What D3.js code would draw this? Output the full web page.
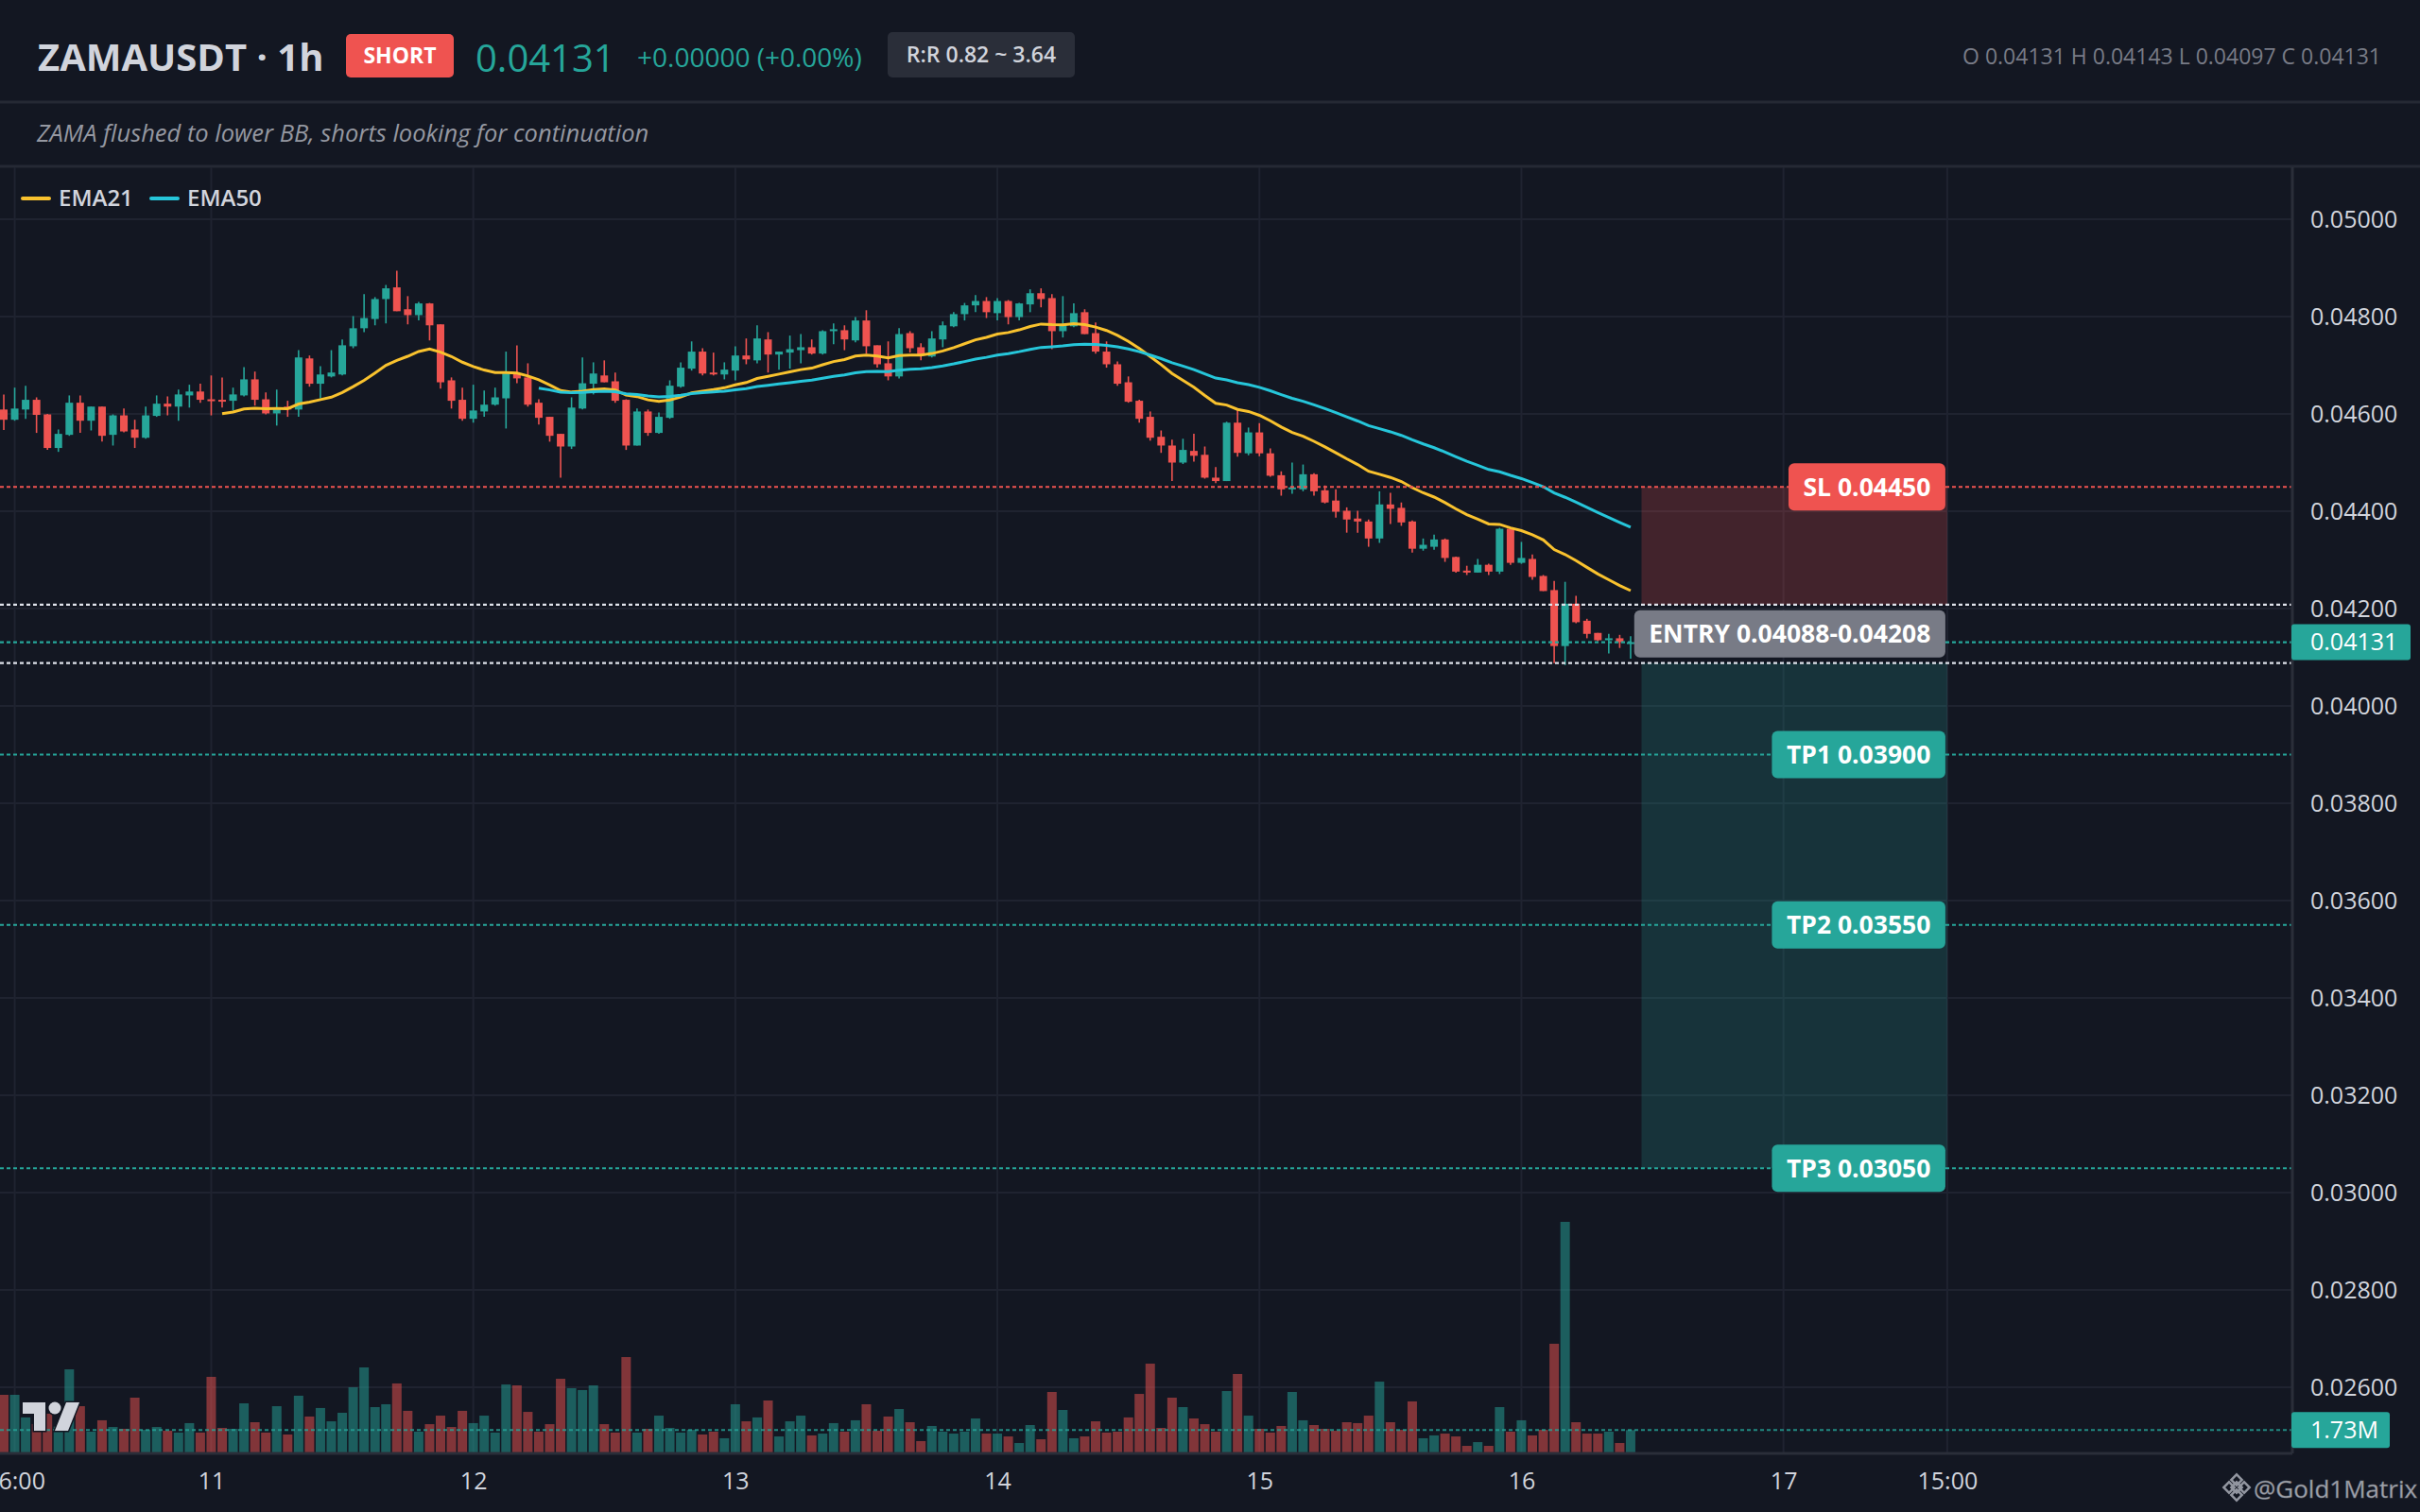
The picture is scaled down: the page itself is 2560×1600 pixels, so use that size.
<!DOCTYPE html>
<html lang="en">
<head>
<meta charset="utf-8">
<title>ZAMAUSDT 1h</title>
<script src="https://d3js.org/d3.v7.min.js"></script>
<style>
  body { margin: 0; background: #131722; }
  svg text { font-family: "Open Sans", "Noto Sans", sans-serif; }
  .axis path, .axis line { display: none; }
  .axis text { fill: #d1d4dc; font-size: 25px; font-family: "Open Sans", sans-serif; }
  .lvl { font-size: 26.5px; font-weight: 700; fill: #fff; }
</style>
</head>
<body>
<script>
// 1h candles, first bar = 10th 05:00, last = 16th 10:00
// prices in units of 0.00001
var opens = [
  4609,4588,4609,4629,4599,4530,4557,4623,4586,4615,
  4557,4597,4568,4551,4596,4621,4615,4638,4646,4630,
  4629,4627,4638,4671,4630,4601,4615,4609,4714,4662,
  4677,4681,4739,4776,4795,4836,4860,4815,4803,4827,
  4784,4669,4629,4590,4605,4619,4632,4683,4675,4623,
  4594,4559,4533,4611,4662,4679,4667,4629,4535,4605,
  4561,4592,4656,4693,4728,4685,4681,4689,4720,4710,
  4753,4722,4726,4731,4737,4724,4770,4772,4751,4792,
  4741,4704,4677,4766,4737,4718,4753,4780,4805,4823,
  4832,4807,4832,4799,4825,4848,4838,4770,4780,4809,
  4766,4728,4702,4665,4627,4594,4553,4535,4500,4524,
  4516,4469,4462,4582,4519,4562,4519,4474,4445,4445,
  4476,4443,4422,4401,4385,4379,4344,4414,4407,4379,
  4323,4327,4342,4306,4278,4274,4290,4276,4364,4294,
  4302,4267,4238,4123,4210,4175,4150,4135,4139,4131
];
var highs = [
  4640,4654,4658,4634,4600,4568,4638,4638,4615,4615,
  4599,4611,4588,4615,4638,4636,4650,4660,4662,4679,
  4675,4654,4696,4687,4644,4650,4627,4731,4720,4698,
  4731,4753,4801,4846,4840,4865,4894,4842,4830,4828,
  4784,4675,4654,4660,4648,4654,4728,4741,4704,4630,
  4594,4559,4634,4716,4706,4710,4685,4630,4611,4609,
  4603,4669,4706,4749,4735,4726,4706,4739,4755,4782,
  4768,4728,4761,4764,4753,4772,4786,4782,4799,4813,
  4741,4749,4776,4770,4745,4770,4790,4809,4828,4844,
  4840,4838,4834,4828,4856,4858,4846,4842,4827,4815,
  4788,4749,4708,4677,4629,4605,4566,4547,4549,4559,
  4533,4491,4584,4609,4572,4581,4529,4482,4500,4496,
  4478,4453,4445,4408,4401,4383,4441,4438,4418,4381,
  4344,4352,4344,4307,4288,4302,4292,4366,4366,4337,
  4311,4269,4257,4255,4226,4179,4150,4148,4146,4143
];
var lows = [
  4567,4586,4590,4561,4526,4522,4555,4561,4566,4543,
  4535,4562,4530,4549,4594,4597,4586,4613,4623,4597,
  4613,4607,4636,4617,4599,4576,4594,4594,4656,4632,
  4675,4679,4735,4768,4782,4786,4811,4784,4792,4751,
  4652,4611,4586,4582,4594,4617,4570,4663,4615,4578,
  4543,4469,4528,4609,4640,4665,4623,4526,4535,4555,
  4559,4590,4654,4689,4679,4679,4671,4669,4702,4704,
  4685,4691,4693,4704,4722,4722,4743,4731,4747,4724,
  4695,4669,4673,4726,4710,4716,4737,4778,4792,4809,
  4797,4792,4784,4792,4809,4819,4733,4757,4778,4764,
  4724,4695,4658,4623,4582,4545,4520,4462,4497,4502,
  4467,4458,4462,4512,4515,4513,4471,4432,4436,4441,
  4432,4416,4387,4356,4356,4327,4335,4374,4370,4315,
  4319,4321,4296,4274,4269,4274,4269,4271,4290,4292,
  4259,4236,4088,4084,4170,4139,4133,4108,4119,4097
];
var closes = [
  4588,4611,4629,4598,4530,4559,4623,4586,4615,4555,
  4597,4564,4551,4597,4621,4615,4640,4646,4629,4627,
  4627,4640,4671,4629,4601,4613,4609,4716,4662,4681,
  4685,4741,4776,4797,4836,4858,4811,4803,4827,4782,
  4665,4627,4590,4607,4619,4634,4683,4673,4619,4592,
  4555,4533,4613,4663,4683,4665,4627,4535,4605,4561,
  4594,4658,4695,4728,4683,4682,4691,4720,4712,4755,
  4722,4728,4733,4737,4724,4770,4774,4753,4792,4739,
  4702,4677,4764,4735,4720,4755,4782,4805,4823,4832,
  4809,4832,4799,4827,4848,4836,4770,4782,4807,4764,
  4728,4702,4662,4625,4590,4551,4535,4500,4526,4514,
  4469,4462,4582,4520,4562,4519,4473,4445,4449,4476,
  4441,4418,4399,4383,4379,4344,4414,4405,4377,4323,
  4331,4342,4304,4276,4274,4290,4276,4364,4294,4304,
  4265,4236,4123,4210,4172,4148,4135,4139,4131,4131
];
// volume, millions
var volumes = [
  4.46,4.46,2.71,2.20,3.00,2.00,6.43,3.58,1.61,2.49,
  1.97,1.83,4.24,1.75,1.97,1.68,1.54,2.27,1.54,5.85,
  1.90,1.83,3.80,2.34,1.54,3.58,1.39,4.39,2.78,3.44,
  2.41,3.07,5.04,6.58,3.51,3.73,5.34,3.22,1.61,2.19,
  2.85,1.97,3.22,2.27,2.85,1.54,5.26,5.19,3.14,1.61,
  2.19,5.70,4.97,4.83,5.19,2.19,1.54,7.38,1.54,1.83,
  2.85,1.90,1.54,1.75,1.39,1.61,1.10,3.73,2.41,2.71,
  4.02,1.24,2.41,2.85,1.32,1.46,2.27,1.61,2.49,3.73,
  1.68,2.78,3.36,2.34,0.88,2.05,1.61,1.46,1.61,2.63,
  1.46,1.46,1.24,0.73,2.12,1.02,4.68,3.29,1.10,1.24,
  2.41,1.54,1.61,2.71,4.53,6.87,1.90,4.24,3.51,2.63,
  2.19,1.61,4.75,6.07,2.85,1.83,1.54,2.05,4.68,2.49,
  2.12,1.83,1.68,2.34,2.27,2.85,5.48,2.34,1.75,3.95,
  1.10,1.32,1.46,1.24,0.51,0.80,0.51,3.51,1.61,2.49,
  1.32,1.75,8.41,17.84,2.34,1.46,1.46,1.61,0.73,1.73
];

// time axis: bar index -> label
var timeTicks = [1, 19, 43, 67, 91, 115, 139, 163, 178];
var timeLabels = ["06:00", "11", "12", "13", "14", "15", "16", "17", "15:00"];
var priceTicks = [2600, 2800, 3000, 3200, 3400, 3600, 3800, 4000, 4200, 4400, 4600, 4800, 5000];

// trade plan
var slLevel = 4450;
var entryLow = 4088, entryHigh = 4208;
var tpLevels = [3900, 3550, 3050];
var tpNames = ["TP1 0.03900", "TP2 0.03550", "TP3 0.03050"];
var lastPrice = 4131;
var lastVolume = 1.73;
var planStart = 150, planEnd = 178;

var green = "#26a69a", red = "#ef5350";
var W = 2560, H = 1600;
var paneTop = 177, paneBottom = 1538, axisX = 2425;

var x = d3.scaleLinear().domain([0, 178]).range([4, 4 + 11.55 * 178]);
var y = d3.scaleLinear().domain([3000, 5000]).range([1262, 232]);
var yVol = d3.scaleLinear().domain([0, 20]).range([1537, 1263.4]);

// EMA as the chart defines it (SMA seed, then smoothing)
function ema(src, len) {
  var k = 2 / (len + 1), prev = null;
  return src.map(function(v, i) {
    if (i < len - 1) return null;
    prev = prev === null ? d3.mean(src.slice(0, len)) : v * k + prev * (1 - k);
    return prev;
  });
}
var ema21 = ema(closes, 21);
var ema50 = ema(closes, 50);

var svg = d3.select("body").append("svg")
  .attr("width", W).attr("height", H);

svg.append("rect").attr("width", W).attr("height", H).attr("fill", "#131722");

// header
svg.selectAll("line.sep").data([108, 176]).enter().append("line")
  .attr("x1", 0).attr("x2", W).attr("y1", function(d) { return d; }).attr("y2", function(d) { return d; })
  .attr("stroke", "#252934").attr("stroke-width", 3);

svg.append("text").attr("x", 40).attr("y", 75)
  .attr("font-size", 40).attr("font-weight", 700).attr("fill", "#d1d4dc")
  .text("ZAMAUSDT · 1h");

svg.append("rect").attr("x", 366).attr("y", 36).attr("width", 114).attr("height", 46)
  .attr("rx", 5).attr("fill", red);
svg.append("text").attr("x", 423).attr("y", 59).attr("dy", "0.35em")
  .attr("text-anchor", "middle").attr("font-size", 23).attr("font-weight", 700).attr("fill", "#fff")
  .text("SHORT");

svg.append("text").attr("x", 503).attr("y", 76)
  .attr("font-size", 40).attr("fill", green).text("0.04131");
svg.append("text").attr("x", 674).attr("y", 71)
  .attr("font-size", 28).attr("fill", green).text("+0.00000 (+0.00%)");

svg.append("rect").attr("x", 939).attr("y", 34).attr("width", 198).attr("height", 48)
  .attr("rx", 5).attr("fill", "#2a2e39");
svg.append("text").attr("x", 1038).attr("y", 58).attr("dy", "0.35em")
  .attr("text-anchor", "middle").attr("font-size", 23).attr("font-weight", 600).attr("fill", "#d1d4dc")
  .text("R:R 0.82 ~ 3.64");

svg.append("text").attr("x", 2519).attr("y", 68).attr("text-anchor", "end")
  .attr("font-size", 23).attr("fill", "#787b86")
  .text("O 0.04131 H 0.04143 L 0.04097 C 0.04131");

svg.append("text").attr("x", 39).attr("y", 150)
  .attr("font-size", 25.5).attr("font-style", "italic").attr("fill", "#9598a1")
  .text("ZAMA flushed to lower BB, shorts looking for continuation");

// grid
var grid = svg.append("g");
grid.selectAll("line.h").data(priceTicks).enter().append("line")
  .attr("x1", 0).attr("x2", axisX)
  .attr("y1", function(d) { return y(d); }).attr("y2", function(d) { return y(d); })
  .attr("stroke", "#1f2330").attr("stroke-width", 2);
grid.selectAll("line.v").data(timeTicks).enter().append("line")
  .attr("x1", function(d) { return x(d); }).attr("x2", function(d) { return x(d); })
  .attr("y1", paneTop).attr("y2", paneBottom)
  .attr("stroke", "#1f2330").attr("stroke-width", 2);

svg.append("clipPath").attr("id", "pane").append("rect")
  .attr("x", 0).attr("y", paneTop).attr("width", axisX).attr("height", paneBottom - paneTop);
var pane = svg.append("g").attr("clip-path", "url(#pane)");

// trade zones
pane.append("rect")
  .attr("x", x(planStart)).attr("width", x(planEnd) - x(planStart))
  .attr("y", y(slLevel)).attr("height", y(entryHigh) - y(slLevel))
  .attr("fill", red).attr("fill-opacity", 0.22);
pane.append("rect")
  .attr("x", x(planStart)).attr("width", x(planEnd) - x(planStart))
  .attr("y", y(entryLow)).attr("height", y(d3.min(tpLevels)) - y(entryLow))
  .attr("fill", green).attr("fill-opacity", 0.2);

var bars = d3.range(closes.length);

// volume
pane.selectAll("rect.vol").data(bars).enter().append("rect")
  .attr("x", function(i) { return x(i) - 5; })
  .attr("width", 10)
  .attr("y", function(i) { return yVol(volumes[i]); })
  .attr("height", function(i) { return yVol(0) - yVol(volumes[i]); })
  .attr("fill", function(i) { return closes[i] >= opens[i] ? green : red; })
  .attr("fill-opacity", 0.5);

// candles
pane.selectAll("line.wick").data(bars).enter().append("line")
  .attr("x1", function(i) { return x(i); }).attr("x2", function(i) { return x(i); })
  .attr("y1", function(i) { return y(highs[i]); }).attr("y2", function(i) { return y(lows[i]); })
  .attr("stroke", function(i) { return closes[i] >= opens[i] ? green : red; })
  .attr("stroke-width", 1.6);
pane.selectAll("rect.body").data(bars).enter().append("rect")
  .attr("x", function(i) { return x(i) - 4; })
  .attr("width", 8)
  .attr("y", function(i) { return y(Math.max(opens[i], closes[i])); })
  .attr("height", function(i) { return Math.max(2, Math.abs(y(opens[i]) - y(closes[i]))); })
  .attr("fill", function(i) { return closes[i] >= opens[i] ? green : red; });

// EMAs
var emaLine = function(arr) {
  return d3.line().defined(function(i) { return arr[i] !== null; })
    .x(function(i) { return x(i); }).y(function(i) { return y(arr[i]); });
};
pane.append("path").attr("d", emaLine(ema21)(bars))
  .attr("fill", "none").attr("stroke", "#f9c22e").attr("stroke-width", 3);
pane.append("path").attr("d", emaLine(ema50)(bars))
  .attr("fill", "none").attr("stroke", "#26c6da").attr("stroke-width", 3);

// level lines
var levels = [
  { v: slLevel, c: red },
  { v: entryHigh, c: "#e0e3eb" },
  { v: entryLow, c: "#e0e3eb" },
  { v: lastPrice, c: green }
].concat(tpLevels.map(function(t) { return { v: t, c: green }; }));
pane.selectAll("line.lvl").data(levels).enter().append("line")
  .attr("x1", 0).attr("x2", axisX)
  .attr("y1", function(d) { return y(d.v); }).attr("y2", function(d) { return y(d.v); })
  .attr("stroke", function(d) { return d.c; })
  .attr("stroke-width", 2.2).attr("stroke-dasharray", "4 3");
pane.append("line")
  .attr("x1", 0).attr("x2", axisX).attr("y1", yVol(lastVolume)).attr("y2", yVol(lastVolume))
  .attr("stroke", green).attr("stroke-opacity", 0.8).attr("stroke-width", 2).attr("stroke-dasharray", "4 3");

// level labels, right edge on the plan end
function levelLabel(txt, cy, fill) {
  var g = svg.append("g");
  var r = g.append("rect").attr("rx", 6).attr("fill", fill);
  var t = g.append("text").attr("class", "lvl").attr("text-anchor", "middle")
    .attr("y", cy).attr("dy", "0.35em").text(txt);
  var w = t.node().getComputedTextLength() + 31;
  var right = x(planEnd) - 2;
  r.attr("x", right - w).attr("width", w).attr("y", cy - 25).attr("height", 50);
  t.attr("x", right - w / 2);
}
levelLabel("SL 0.04450", y(slLevel), red);
levelLabel("ENTRY 0.04088-0.04208", y((entryLow + entryHigh) / 2), "#787b86");
tpLevels.forEach(function(t, i) { levelLabel(tpNames[i], y(t), green); });

// legend
var legend = svg.append("g").attr("font-size", 24).attr("font-weight", 600);
[["EMA21", "#f9c22e", 24], ["EMA50", "#26c6da", 160]].forEach(function(d) {
  legend.append("line").attr("x1", d[2]).attr("x2", d[2] + 28).attr("y1", 210).attr("y2", 210)
    .attr("stroke", d[1]).attr("stroke-width", 4).attr("stroke-linecap", "round");
  legend.append("text").attr("x", d[2] + 38).attr("y", 210).attr("dy", "0.35em")
    .attr("fill", "#d1d4dc").text(d[0]);
});

// tradingview logo
var logo = svg.append("g").attr("fill", "#d1d4dc").attr("stroke", "#131722").attr("stroke-width", 3)
  .attr("paint-order", "stroke");
logo.append("path").attr("d", "M24,1484 H48 V1514 H36 V1496 H24 Z");
logo.append("circle").attr("cx", 58).attr("cy", 1490).attr("r", 6.5);
logo.append("path").attr("d", "M70,1484 H84 L72,1514 H58 Z");

// axes
svg.append("line").attr("x1", axisX).attr("x2", axisX).attr("y1", paneTop).attr("y2", paneBottom)
  .attr("stroke", "#2a2e39").attr("stroke-width", 3);
svg.append("line").attr("x1", 0).attr("x2", axisX).attr("y1", paneBottom).attr("y2", paneBottom)
  .attr("stroke", "#2a2e39").attr("stroke-width", 3);

svg.append("g").attr("class", "axis")
  .attr("transform", "translate(" + axisX + ",0)")
  .call(d3.axisRight(y).tickValues(priceTicks).tickSize(0).tickPadding(19)
    .tickFormat(function(d) { return (d / 1e5).toFixed(5); }));

svg.append("g").attr("class", "axis")
  .attr("transform", "translate(0," + paneBottom + ")")
  .call(d3.axisBottom(x).tickValues(timeTicks).tickSize(0).tickPadding(20)
    .tickFormat(function(d, i) { return timeLabels[i]; }));

// axis badges
function axisBadge(txt, cy, w) {
  svg.append("rect").attr("x", axisX - 1).attr("y", cy - 19).attr("width", w).attr("height", 38)
    .attr("rx", 3).attr("fill", green);
  svg.append("text").attr("x", axisX + 19).attr("y", cy).attr("dy", "0.35em")
    .attr("font-size", 25).attr("fill", "#fff").text(txt);
}
axisBadge("0.04131", y(lastPrice), 126);
axisBadge("1.73M", yVol(lastVolume), 104);

// watermark
var wm = svg.append("g").attr("fill", "none").attr("stroke", "#c8ccd6").attr("stroke-width", 2.5)
  .attr("opacity", 0.7);
[[2366, 1566], [2358, 1574], [2374, 1574], [2366, 1582], [2366, 1574]].forEach(function(p) {
  wm.append("rect").attr("x", p[0] - 4).attr("y", p[1] - 4).attr("width", 8).attr("height", 8)
    .attr("transform", "rotate(45," + p[0] + "," + p[1] + ")");
});
svg.append("text").attr("x", 2384).attr("y", 1585).attr("font-size", 26)
  .attr("fill", "#d1d4dc").attr("opacity", 0.75)
  .attr("stroke", "#9598a1").attr("stroke-width", 0.8).attr("stroke-opacity", 0.5)
  .text("@Gold1Matrix");
</script>
</body>
</html>
